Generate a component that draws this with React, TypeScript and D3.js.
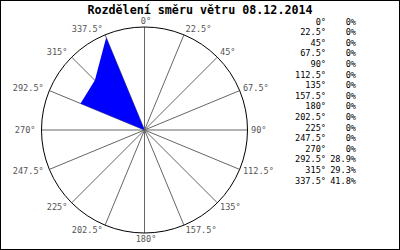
import React from "react";
import * as d3 from "d3";

const title = "Rozdělení směru větru 08.12.2014";
const directions = [0, 22.5, 45, 67.5, 90, 112.5, 135, 157.5, 180, 202.5, 225, 247.5, 270, 292.5, 315, 337.5];
const dirLabels = ["0°", "22.5°", "45°", "67.5°", "90°", "112.5°", "135°", "157.5°", "180°", "202.5°", "225°", "247.5°", "270°", "292.5°", "315°", "337.5°"];
const percents = [0, 0, 0, 0, 0, 0, 0, 0, 0, 0, 0, 0, 0, 28.9, 29.3, 41.8];
const percentLabels = ["0%", "0%", "0%", "0%", "0%", "0%", "0%", "0%", "0%", "0%", "0%", "0%", "0%", "28.9%", "29.3%", "41.8%"];

const W = 400, H = 250;
const cx = 144.5, cy = 130, R = 103;
const font = "'DejaVu Sans Mono', monospace";

export default function App() {
  const r = d3.scaleLinear().domain([0, 43]).range([0, R]);
  const rad = (deg: number) => (deg * Math.PI) / 180;
  const pt = (deg: number, rr: number): [number, number] => [cx + rr * Math.sin(rad(deg)), cy - rr * Math.cos(rad(deg))];

  const line = d3.line<[number, number]>().curve(d3.curveLinearClosed);
  const polyPts = directions.map((d, i) => pt(d, r(percents[i])));
  const polyPath = line(polyPts) || "";

  const legendY = d3.scaleLinear().domain([0, 15]).range([22, 181]);

  return (
    <svg width={W} height={H} style={{ position: "absolute", left: 0, top: 0, background: "#fff" }}>
      <rect x={0.5} y={0.5} width={W - 1} height={H - 1} fill="#fff" stroke="#000" />
      <text x={200} y={10} textAnchor="middle" dominantBaseline="middle" fontFamily={font} fontWeight="bold" fontSize={11.7} fill="#000">
        {title}
      </text>
      {directions.map((d, i) => {
        const [x, y] = pt(d, R);
        return <line key={"s" + i} x1={cx} y1={cy} x2={x} y2={y} stroke="#666" strokeWidth={1} />;
      })}
      <circle cx={cx} cy={cy} r={R} fill="none" stroke="#000" strokeWidth={1} />
      <path d={polyPath} fill="#0000ff" stroke="none" />
      {directions.map((d, i) => {
        const [x, y] = pt(d, R);
        const s = Math.sin(rad(d));
        const c = Math.cos(rad(d));
        const anchor = s > 0.1 ? "start" : s < -0.1 ? "end" : "middle";
        const dx = s > 0.1 ? 3 * s + 0.5 : s < -0.1 ? 6 * s : 1.5;
        const dy = -6 * c;
        return (
          <text key={"l" + i} x={x + dx} y={y + dy} textAnchor={anchor} dominantBaseline="middle" fontFamily={font} fontSize={8.6} fill="#555">
            {dirLabels[i]}
          </text>
        );
      })}
      {directions.map((d, i) => (
        <g key={"g" + i}>
          <text x={326} y={legendY(i)} textAnchor="end" dominantBaseline="middle" fontFamily={font} fontSize={8.6} fill="#000">
            {dirLabels[i]}
          </text>
          <text x={356} y={legendY(i)} textAnchor="end" dominantBaseline="middle" fontFamily={font} fontSize={8.6} fill="#000">
            {percentLabels[i]}
          </text>
        </g>
      ))}
    </svg>
  );
}
